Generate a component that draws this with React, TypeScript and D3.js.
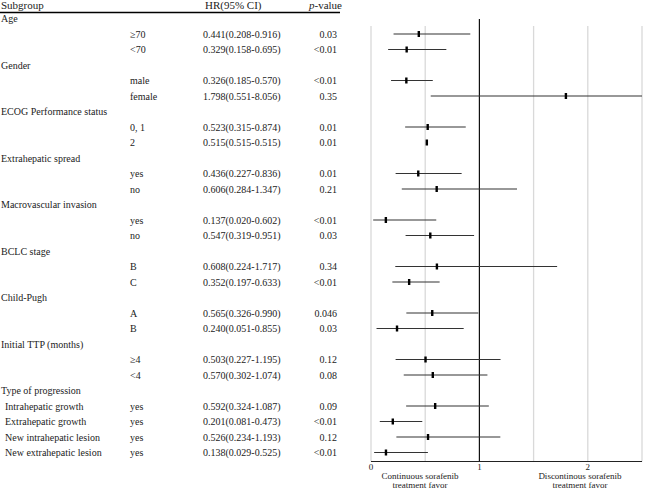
import React from "react";
import * as d3 from "d3";

const rowTitles = ["Age", "", "", "Gender", "", "", "ECOG Performance status", "", "", "Extrahepatic spread", "", "", "Macrovascular invasion", "", "", "BCLC stage", "", "", "Child-Pugh", "", "", "Initial TTP (months)", "", "", "Type of progression", "Intrahepatic growth", "Extrahepatic growth", "New intrahepatic lesion", "New extrahepatic lesion"];
const rowLevels = ["", "≥70", "<70", "", "male", "female", "", "0, 1", "2", "", "yes", "no", "", "yes", "no", "", "B", "C", "", "A", "B", "", "≥4", "<4", "", "yes", "yes", "yes", "yes"];
const hrValues: (number | null)[] = [null, 0.441, 0.329, null, 0.326, 1.798, null, 0.523, 0.515, null, 0.436, 0.606, null, 0.137, 0.547, null, 0.608, 0.352, null, 0.565, 0.240, null, 0.503, 0.570, null, 0.592, 0.201, 0.526, 0.138];
const lowerValues: (number | null)[] = [null, 0.208, 0.158, null, 0.185, 0.551, null, 0.315, 0.515, null, 0.227, 0.284, null, 0.020, 0.319, null, 0.224, 0.197, null, 0.326, 0.051, null, 0.227, 0.302, null, 0.324, 0.081, 0.234, 0.029];
const upperValues: (number | null)[] = [null, 0.916, 0.695, null, 0.570, 8.056, null, 0.874, 0.515, null, 0.836, 1.347, null, 0.602, 0.951, null, 1.717, 0.633, null, 0.990, 0.855, null, 1.195, 1.074, null, 1.087, 0.473, 1.193, 0.525];
const pValues = ["", "0.03", "<0.01", "", "<0.01", "0.35", "", "0.01", "0.01", "", "0.01", "0.21", "", "<0.01", "0.03", "", "0.34", "<0.01", "", "0.046", "0.03", "", "0.12", "0.08", "", "0.09", "<0.01", "0.12", "<0.01"];
const gridValues = [0, 0.5, 1.5, 2, 2.5];
const tickValues = [0, 1, 2];
const leftLabel = ["Continuous sorafenib", "treatment favor"];
const rightLabel = ["Discontinous sorafenib", "treatment favor"];

const FONT = '"Liberation Serif", "Times New Roman", serif';

export default function App() {
  const x = d3.scaleLinear().domain([0, 2.5]).range([371, 642]);
  const idx = rowTitles.map((_, i) => i);
  const y = d3.scalePoint<number>().domain(idx).range([18.5, 18.5 + 28 * 15.5]);
  const axisY = 461.5;
  const fmt = d3.format(".3f");
  const clip = (v: number) => Math.max(0, Math.min(2.5, v));

  return (
    <div style={{ position: "absolute", left: 0, top: 0 }}>
      <svg width={650} height={490} style={{ display: "block", background: "#fff" }} fontFamily={FONT}>
        <g fontSize={11} fill="#222">
          <text x={1} y={9}>Subgroup</text>
          <text x={205} y={9}>HR(95% CI)</text>
          <text x={309} y={9}>
            <tspan fontStyle="italic">p</tspan>-value
          </text>
        </g>
        <line x1={0} x2={340} y1={12.5} y2={12.5} stroke="#000" strokeWidth={1.3} />

        {gridValues.map((g) => (
          <line key={g} x1={x(g)} x2={x(g)} y1={26} y2={axisY} stroke="#d9d9d9" strokeWidth={1.3} />
        ))}
        <line x1={x(1)} x2={x(1)} y1={19} y2={axisY} stroke="#111" strokeWidth={1.2} />
        <line x1={x(0)} x2={x(2.5)} y1={axisY} y2={axisY} stroke="#222" strokeWidth={1} />

        <g fontSize={10} fill="#222">
          {idx.map((i) => {
            const cy = y(i) as number;
            const title = rowTitles[i];
            const level = rowLevels[i];
            const indented = title && level;
            const hr = hrValues[i];
            const lo = lowerValues[i];
            const hi = upperValues[i];
            return (
              <g key={i}>
                {title && <text x={indented ? 5 : 1} y={cy + 3.5}>{title}</text>}
                {level && <text x={130} y={cy + 3.5}>{level}</text>}
                {hr != null && (
                  <text x={203} y={cy + 3.5}>{`${fmt(hr)}(${fmt(lo as number)}-${fmt(hi as number)})`}</text>
                )}
                {pValues[i] && (
                  <text x={337} y={cy + 3.5} textAnchor="end">{pValues[i]}</text>
                )}
                {hr != null && (
                  <>
                    <line x1={x(clip(lo as number))} x2={x(clip(hi as number))} y1={cy} y2={cy} stroke="#333" strokeWidth={1.2} />
                    <rect x={x(hr) - 1.2} y={cy - 3} width={2.4} height={6} fill="#000" />
                  </>
                )}
              </g>
            );
          })}
        </g>

        <g fontSize={9} fill="#222" textAnchor="middle">
          {tickValues.map((t) => (
            <text key={t} x={x(t)} y={469.5}>{t}</text>
          ))}
          {leftLabel.map((s, k) => (
            <text key={"l" + k} x={420} y={479 + k * 9}>{s}</text>
          ))}
          {rightLabel.map((s, k) => (
            <text key={"r" + k} x={580} y={479 + k * 9}>{s}</text>
          ))}
        </g>
      </svg>
    </div>
  );
}
